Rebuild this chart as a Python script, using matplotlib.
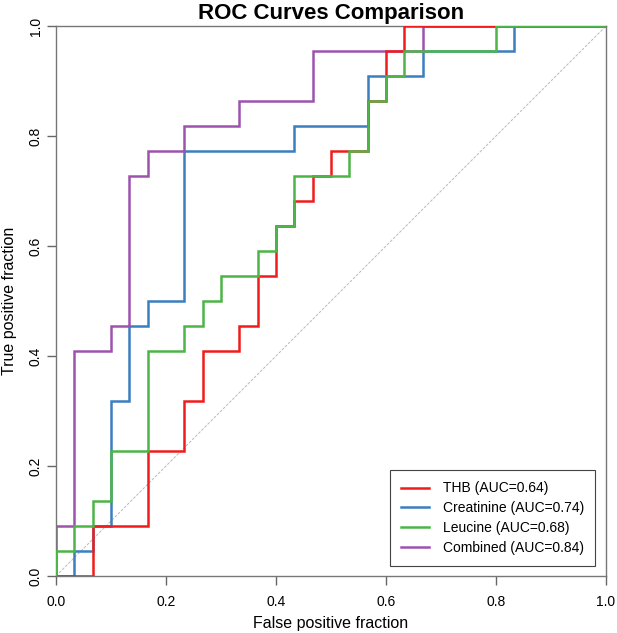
import numpy as np
import matplotlib
matplotlib.use("Agg")
import matplotlib.pyplot as plt

plt.rcParams['font.family'] = ['Liberation Sans', 'DejaVu Sans']

# ROC vertices as (false positive count, true positive count); 30 negatives, 22 positives
N_NEG = 30
N_POS = 22

thb_fp = [0, 2, 2, 5, 5, 7, 7, 8, 8, 10, 10, 11, 11, 12, 12, 13, 13, 14, 14, 15, 15, 16, 17, 17, 18, 18, 19, 19, 30]
thb_tp = [0, 0, 2, 2, 5, 5, 7, 7, 9, 9, 10, 10, 12, 12, 14, 14, 15, 15, 16, 16, 17, 17, 17, 19, 19, 21, 21, 22, 22]

creat_fp = [0, 1, 1, 2, 2, 3, 3, 4, 4, 5, 5, 7, 7, 13, 13, 17, 17, 20, 20, 25, 25, 30]
creat_tp = [0, 0, 1, 1, 2, 2, 7, 7, 10, 10, 11, 11, 17, 17, 18, 18, 20, 20, 21, 21, 22, 22]

leu_fp = [0, 0, 1, 1, 2, 2, 3, 3, 5, 5, 7, 7, 8, 8, 9, 9, 11, 11, 12, 12, 13, 13, 16, 16, 17, 17, 18, 18, 19, 19, 24, 24, 30]
leu_tp = [0, 1, 1, 2, 2, 3, 3, 5, 5, 9, 9, 10, 10, 11, 11, 12, 12, 13, 13, 14, 14, 16, 16, 17, 17, 19, 19, 20, 20, 21, 21, 22, 22]

comb_fp = [0, 0, 1, 1, 3, 3, 4, 4, 5, 5, 7, 7, 10, 10, 14, 14, 20, 20, 30]
comb_tp = [0, 2, 2, 9, 9, 10, 10, 16, 16, 17, 17, 18, 18, 19, 19, 21, 21, 22, 22]

labels = ["THB (AUC=0.64)", "Creatinine (AUC=0.74)", "Leucine (AUC=0.68)", "Combined (AUC=0.84)"]
colors = ["#F01C1C", "#3A7FC0", "#4DB548", "#9D52AE"]
zorders = [3, 2, 4, 2]

fig = plt.figure(figsize=(6.17, 6.33), dpi=100)
ax = fig.add_axes([56 / 617, 57 / 633, 550 / 617, 550 / 633])

curves = [(thb_fp, thb_tp), (creat_fp, creat_tp), (leu_fp, leu_tp), (comb_fp, comb_tp)]
for (fp, tp), lab, col, z in zip(curves, labels, colors, zorders):
    ax.plot(np.array(fp) / N_NEG, np.array(tp) / N_POS, color=col, lw=1.8,
            label=lab, zorder=z, solid_joinstyle='miter')

# chance line
ax.plot([0, 1], [0, 1], color='#bbbbbb', lw=0.7, linestyle=(0, (3, 1.5)), zorder=1)

ax.set_xlim(0, 1)
ax.set_ylim(0, 1)
ticks = [0.0, 0.2, 0.4, 0.6, 0.8, 1.0]
ax.set_xticks(ticks)
ax.set_yticks(ticks)
ax.set_xticklabels([f"{t:.1f}" for t in ticks])
ax.set_yticklabels([f"{t:.1f}" for t in ticks])
for lab in ax.get_yticklabels():
    lab.set_rotation(90)
    lab.set_va('center')

ax.tick_params(direction='out', length=6.5, width=1, color='#666666', labelsize=10,
               labelcolor='black')
ax.tick_params(axis='x', pad=7)
ax.tick_params(axis='y', pad=3)
for sp in ax.spines.values():
    sp.set_color('#777777')
    sp.set_linewidth(1.0)

ax.set_xlabel("False positive fraction", fontsize=11.5)
ax.set_ylabel("True positive fraction", fontsize=11.5)
ax.xaxis.set_label_coords(0.5, -0.086)
ax.xaxis.label.set_va('center')
ax.yaxis.set_label_coords(-0.084, 0.5)
ax.yaxis.label.set_va('center')
ax.set_title("ROC Curves Comparison", fontsize=16, fontweight='bold', pad=5)

leg = ax.legend(loc='lower right', bbox_to_anchor=(0.98, 0.018), fontsize=10,
                fancybox=False, framealpha=1, edgecolor='#444444',
                handlelength=2.0, handletextpad=1.0, labelspacing=0.42,
                borderpad=0.8, borderaxespad=0)
leg.get_frame().set_linewidth(0.8)
for line in leg.get_lines():
    line.set_linewidth(1.8)

fig.savefig("out.png", dpi=100)
